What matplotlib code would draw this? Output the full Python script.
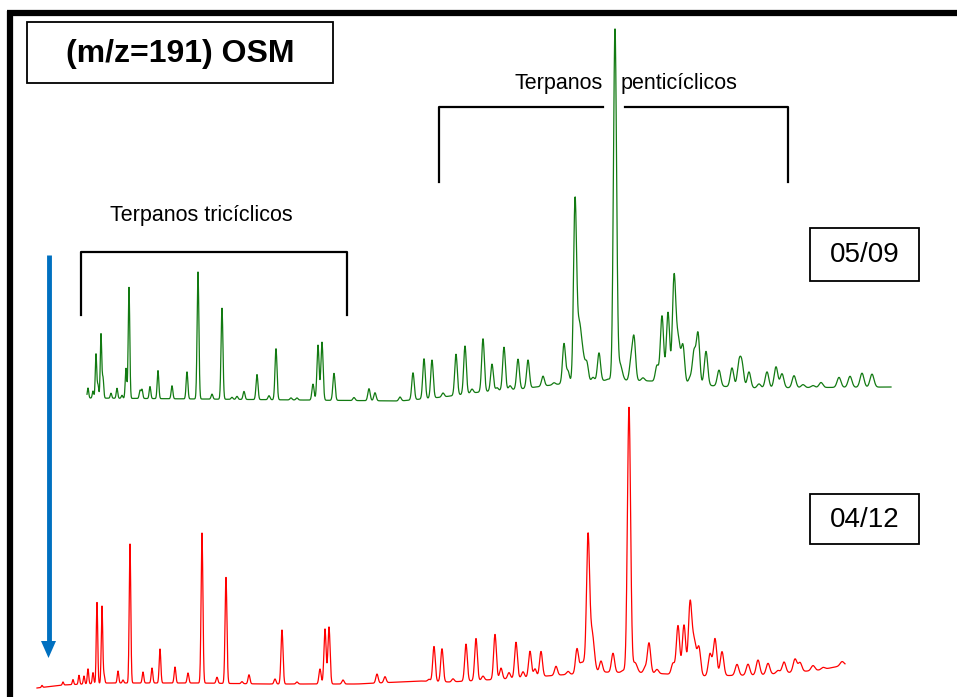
import numpy as np
import matplotlib
matplotlib.use("Agg")
import matplotlib.pyplot as plt
from matplotlib.patches import Rectangle

# ---------------- data (pixel-like units) ----------------
# Green trace (05/09): baseline knots and peaks (position, intensity above baseline)
green_base_x = [87, 200, 300, 400, 443, 480, 520, 560, 610, 650, 700, 750, 891]
green_base_y = [398, 399, 400, 401, 397, 392, 389, 384, 380, 381, 385, 388, 387]
green_peak_x = [88, 93, 96, 98, 101, 103, 111, 117, 122, 126, 129, 140, 142, 150, 158,
                172, 187, 198, 212, 222, 232, 237, 244, 257, 269, 276, 291, 297, 313,
                318, 322, 334, 354, 369, 375, 400, 413, 424, 432, 443, 456, 465, 472,
                483, 492, 497, 504, 510, 518, 528, 543, 554, 564, 568, 575, 587, 593,
                599, 608, 615, 631, 634, 643, 657, 662, 668, 674, 683, 690, 694, 698,
                706, 719, 732, 739, 742, 749, 759, 767, 776, 782, 794, 803, 813, 821,
                839, 850, 862, 872]
green_peak_h = [10, 7, 44, 13, 64, 20, 5, 10, 3, 30, 111, 8, 9, 12, 28,
                13, 27, 127, 5, 91, 2, 3, 8, 25, 4, 51, 2, 2, 16,
                55, 58, 27, 3, 12, 8, 4, 27, 40, 38, 4, 41, 48, 4,
                53, 27, 3, 43, 4, 30, 28, 10, 2, 40, 12, 175, 16, 4,
                28, 1, 350, 19, 42, 3, 16, 66, 70, 100, 36, 6, 32, 51,
                34, 16, 19, 23, 22, 16, 4, 16, 21, 14, 12, 3, 2, 5,
                10, 11, 14, 13]
green_tail_x = [579, 583, 620, 678]
green_tail_h = [55, 22, 16, 45]

# Red trace (04/12)
red_base_x = [37, 63, 107, 200, 263, 357, 420, 450, 520, 600, 650, 700, 760, 820, 845]
red_base_y = [688, 685, 683, 683, 684, 684, 681, 682, 678, 672, 673, 676, 675, 670, 665]
red_peak_x = [42, 63, 73, 79, 84, 88, 93, 97, 102, 104, 118, 123, 130, 143, 152, 160,
              175, 188, 202, 217, 226, 242, 249, 275, 282, 297, 320, 325, 329, 343,
              377, 385, 429, 434, 442, 453, 466, 476, 483, 495, 501, 509, 516, 523,
              530, 535, 541, 556, 568, 577, 581, 584, 588, 601, 613, 623, 629, 645,
              649, 657, 673, 678, 684, 690, 699, 710, 715, 722, 737, 748, 758, 768,
              778, 784, 795, 800, 813, 823, 842]
red_peak_h = [2, 3, 5, 9, 8, 15, 11, 81, 77, 8, 12, 3, 139, 11, 15, 34,
              16, 10, 150, 6, 106, 2, 9, 5, 54, 2, 15, 55, 57, 4,
              9, 6, 2, 35, 33, 3, 37, 42, 4, 45, 11, 6, 36, 6,
              26, 8, 25, 9, 3, 25, 9, 9, 132, 11, 19, 2, 265, 5,
              30, 4, 11, 49, 50, 68, 27, 22, 37, 24, 11, 11, 15, 11,
              3, 11, 13, 9, 5, 2, 4]
red_tail_x = [592, 635, 694]
red_tail_h = [40, 10, 35]

title_text = "(m/z=191) OSM"
label_penta = ("Terpanos", "penticíclicos")
label_tri = "Terpanos tricíclicos"
date_labels = ["05/09", "04/12"]


def trace(bx, by, px, ph, tx, th):
    x = np.arange(bx[0], bx[-1] + 0.01, 0.2)
    y = np.interp(x, bx, by).astype(float)
    for p, h in zip(px, ph):
        s = 0.7 + 0.0016 * (p - 80)
        y -= h * np.exp(-0.5 * ((x - p) / s) ** 2)
    for p, h in zip(tx, th):
        y -= h * np.exp(-0.5 * ((x - p) / 2.2) ** 2)
    return x, y


fig = plt.figure(figsize=(9.57, 6.97), dpi=100)
ax = fig.add_axes([0, 0, 1, 1])
ax.set_xlim(0, 957)
ax.set_ylim(697, 0)
ax.axis("off")

# frame (top and left)
ax.plot([7, 957], [13, 13], color="black", lw=4.5, solid_capstyle="butt")
ax.plot([10, 10], [10.8, 697], color="black", lw=4.5, solid_capstyle="butt")

# title box
ax.add_patch(Rectangle((27, 22), 306, 61, fill=False, ec="black", lw=1.3))
ax.text(180, 54, title_text, ha="center", va="center", fontsize=23,
        fontweight="bold", family="Liberation Sans")

# brackets
ax.plot([439, 439, 603], [182, 107, 107], color="black", lw=1.6)
ax.plot([625, 788, 788], [107, 107, 182], color="black", lw=1.6)
ax.plot([81, 81, 347, 347], [315, 252, 252, 315], color="black", lw=1.6)
ax.text(603, 83, label_penta[0], ha="right", va="center", fontsize=15.5,
        family="Liberation Sans")
ax.text(621, 83, label_penta[1], ha="left", va="center", fontsize=15.5,
        family="Liberation Sans")
ax.text(201, 216, label_tri, ha="center", va="center", fontsize=15.5,
        family="Liberation Sans")

# date boxes
ax.add_patch(Rectangle((810, 228), 109, 53, fill=False, ec="black", lw=1.3))
ax.text(864.5, 255, date_labels[0], ha="center", va="center", fontsize=20,
        family="Liberation Sans")
ax.add_patch(Rectangle((810, 494), 109, 50, fill=False, ec="black", lw=1.3))
ax.text(864.5, 520, date_labels[1], ha="center", va="center", fontsize=20,
        family="Liberation Sans")

# blue arrow
ax.plot([48.5, 48.5], [255, 645], color="#0070C0", lw=3.5, solid_capstyle="butt")
ax.fill([41, 56, 48.5], [641, 641, 658], color="#0070C0", lw=0)

# traces
gx, gy = trace(green_base_x, green_base_y, green_peak_x, green_peak_h,
               green_tail_x, green_tail_h)
ax.plot(gx, gy, color="#127a12", lw=0.9)
rx, ry = trace(red_base_x, red_base_y, red_peak_x, red_peak_h,
               red_tail_x, red_tail_h)
ax.plot(rx, ry, color="#ff0000", lw=0.9)

fig.savefig("out.png", dpi=100)
